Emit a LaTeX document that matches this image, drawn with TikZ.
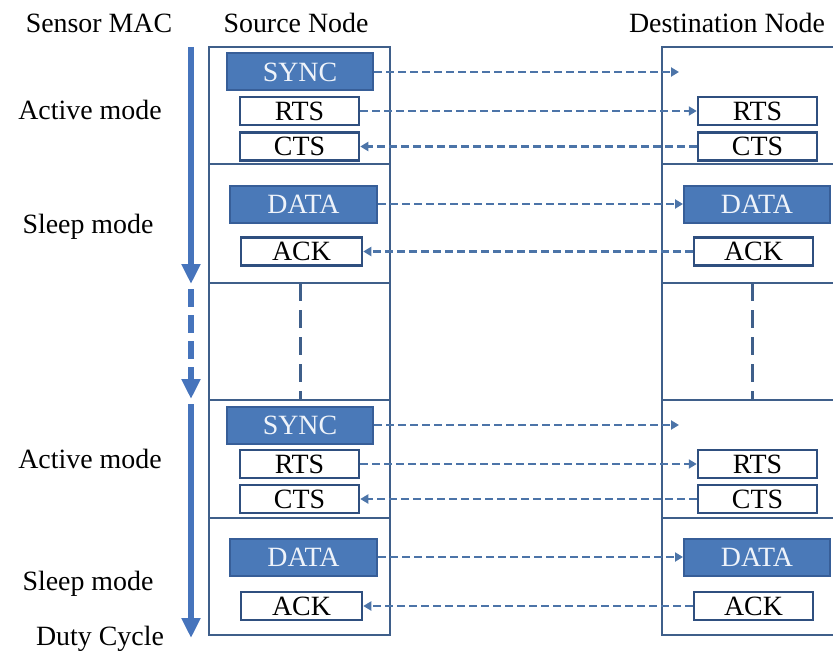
\documentclass[tikz,border=0pt]{standalone}
\usepackage{fontspec}
\setmainfont{Liberation Serif}
\usetikzlibrary{arrows.meta}
\definecolor{colline}{HTML}{3F5F8A}
\definecolor{fboxfill}{HTML}{4A79B8}
\definecolor{fboxdraw}{HTML}{375E98}
\definecolor{fboxtext}{HTML}{EEF3FA}
\definecolor{wboxdraw}{HTML}{2F4F7F}
\definecolor{msgcol}{HTML}{4C74A8}
\definecolor{timecol}{HTML}{4674BC}
\tikzset{
  txt/.style={font=\fontsize{28}{30}\selectfont},
  fbox/.style={txt, draw=fboxdraw, fill=fboxfill, line width=2bp, text=fboxtext, inner sep=0pt},
  wbox/.style={txt, draw=wboxdraw, fill=white, line width=2.5bp, inner sep=0pt, minimum height=28bp},
  msg/.style={draw=msgcol, line width=2.7bp, dash pattern=on 8bp off 4bp, -{Triangle[length=8bp,width=9bp]}},
  col/.style={draw=colline, line width=2.6bp},
  vdash/.style={draw=colline, line width=3bp, dash pattern=on 18bp off 9bp},
  timeline/.style={draw=timecol, line width=6bp, -{Triangle[length=20bp,width=18bp]}},
  lbl/.style={txt, inner sep=0pt, anchor=base},
}
\begin{document}
\begin{tikzpicture}[x=1bp,y=-1bp]
\useasboundingbox (0,0) rectangle (833,651);
\clip (0,0) rectangle (833,651);

% headings
\node[lbl] (hmac) at (99,33) {Sensor MAC};
\node[lbl] (hsrc) at (296,33) {Source Node};
\node[lbl] (hdst) at (727,33) {Destination Node};

% mode labels
\node[lbl] (a1) at (90,120) {Active mode};
\node[lbl] (s1) at (88,233) {Sleep mode};
\node[lbl] (a2) at (90,468) {Active mode};
\node[lbl] (s2) at (88,590) {Sleep mode};
\node[lbl] (dc) at (100,645) {Duty Cycle};

% timeline arrow
\coordinate (t0) at (191,47);
\coordinate (t1) at (191,284);
\coordinate (t2) at (191,289);
\coordinate (t3) at (191,399);
\coordinate (t4) at (191,404);
\coordinate (t5) at (191,638);
\draw[timeline] (t0) -- (t1);
\draw[timeline, dash pattern=on 18bp off 8bp] (t2) -- (t3);
\draw[timeline] (t4) -- (t5);

% columns
\draw[col] (209,47) rectangle (390,635);
\draw[col] (662,47) rectangle (860,635);
\foreach \yy in {164,283,400,518} {
  \draw[col] (209,\yy) -- (390,\yy);
  \draw[col] (662,\yy) -- (860,\yy);
}
\coordinate (ld0) at (300,283);
\coordinate (ld1) at (300,400);
\coordinate (rd0) at (752,283);
\coordinate (rd1) at (752,400);
\draw[vdash] (ld0) -- (ld1);
\draw[vdash] (rd0) -- (rd1);

% cycle 1 boxes
\node[fbox, minimum width=146bp, minimum height=37bp] (sync1) at (300,72) {SYNC};
\node[wbox, minimum width=119bp] (rtsL1) at (299.5,111) {RTS};
\node[wbox, minimum width=119bp] (ctsL1) at (299.5,146.5) {CTS};
\node[fbox, minimum width=147bp, minimum height=37bp] (dataL1) at (303.5,204) {DATA};
\node[wbox, minimum width=121bp] (ackL1) at (301.5,251.5) {ACK};

\node[wbox, minimum width=119bp] (rtsR1) at (757.5,111) {RTS};
\node[wbox, minimum width=119bp] (ctsR1) at (757.5,146.5) {CTS};
\node[fbox, minimum width=146bp, minimum height=37bp] (dataR1) at (757,204) {DATA};
\node[wbox, minimum width=119bp] (ackR1) at (753.5,251.5) {ACK};
\coordinate (syncEnd1) at (679,72);

% cycle 2 boxes
\node[fbox, minimum width=146bp, minimum height=37bp] (sync2) at (300,425) {SYNC};
\node[wbox, minimum width=119bp] (rtsL2) at (299.5,464) {RTS};
\node[wbox, minimum width=119bp] (ctsL2) at (299.5,499) {CTS};
\node[fbox, minimum width=147bp, minimum height=37bp] (dataL2) at (303.5,557) {DATA};
\node[wbox, minimum width=121bp] (ackL2) at (301.5,606) {ACK};

\node[wbox, minimum width=119bp] (rtsR2) at (757.5,464) {RTS};
\node[wbox, minimum width=119bp] (ctsR2) at (757.5,499) {CTS};
\node[fbox, minimum width=146bp, minimum height=37bp] (dataR2) at (757,557) {DATA};
\node[wbox, minimum width=119bp] (ackR2) at (753.5,606) {ACK};
\coordinate (syncEnd2) at (679,425);

% messages
\draw[msg] (sync1.east) -- (syncEnd1);
\draw[msg] (rtsL1.east) -- (rtsR1.west);
\draw[msg] (ctsR1.west) -- (ctsL1.east);
\draw[msg] (dataL1.east) -- (dataR1.west);
\draw[msg] (ackR1.west) -- (ackL1.east);

\draw[msg] (sync2.east) -- (syncEnd2);
\draw[msg] (rtsL2.east) -- (rtsR2.west);
\draw[msg] (ctsR2.west) -- (ctsL2.east);
\draw[msg] (dataL2.east) -- (dataR2.west);
\draw[msg] (ackR2.west) -- (ackL2.east);
\end{tikzpicture}
\end{document}
